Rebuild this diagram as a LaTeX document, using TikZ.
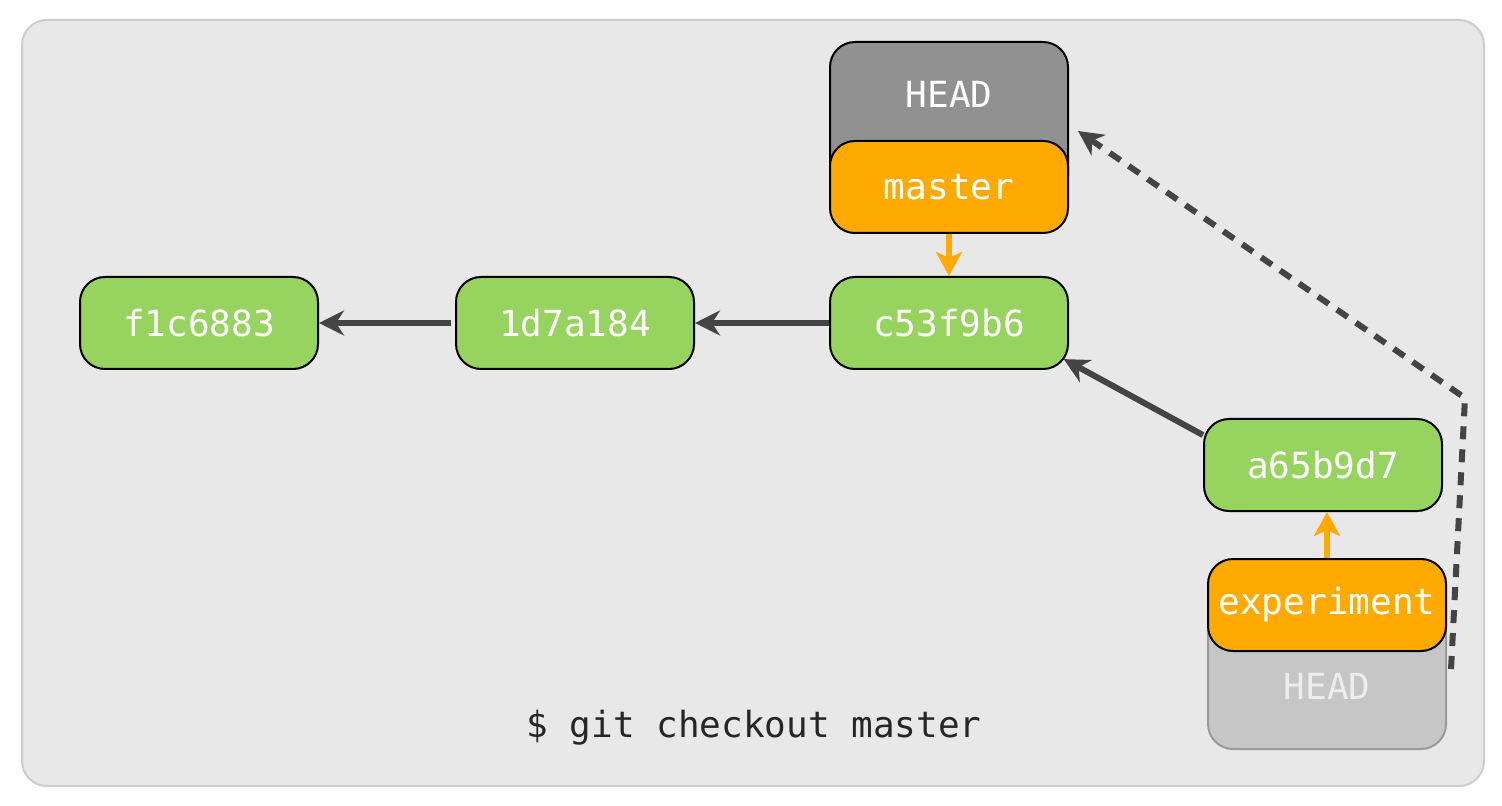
\documentclass[tikz,border=0pt]{standalone}
\usepackage{fontspec}
\setmonofont{DejaVu Sans Mono}
\usetikzlibrary{arrows.meta}
\definecolor{bggray}{HTML}{E8E8E8}
\definecolor{bgline}{HTML}{CDCDCD}
\definecolor{commitgreen}{HTML}{96D35F}
\definecolor{branchorange}{HTML}{FFAA00}
\definecolor{headgray}{HTML}{919191}
\definecolor{oldhead}{HTML}{C6C6C6}
\definecolor{oldheadline}{HTML}{9A9A9A}
\definecolor{arrowgray}{HTML}{444444}
\begin{document}
\begin{tikzpicture}[x=0.5pt,y=-0.5pt,
    box/.style={draw=black, line width=1pt, rounded corners=12.5pt,
        minimum width=119pt, minimum height=46pt, inner sep=0pt,
        font=\ttfamily\fontsize{18}{20}\selectfont, text=white},
    commit/.style={box, fill=commitgreen},
    branch/.style={box, fill=branchorange},
    headbox/.style={box, fill=headgray, anchor=north, minimum height=79.5pt},
    oldheadbox/.style={box, draw=oldheadline, fill=oldhead, anchor=north, minimum height=74pt},
    headtext/.style={font=\ttfamily\fontsize{18}{20}\selectfont, text=white},
    parent/.style={draw=arrowgray, line width=3pt, -{Stealth[length=12.5pt,width=12.5pt,inset=4pt]}},
    pointer/.style={draw=branchorange, line width=3pt, -{Stealth[length=12pt,width=13pt,inset=3pt]}},
    moved/.style={draw=arrowgray, line width=3pt, dash pattern=on 6.5pt off 5pt,
        -{Stealth[length=12.5pt,width=12.5pt,inset=4pt]}}]
    \useasboundingbox (0,0) rectangle (1502,806);
    \draw[bgline, fill=bggray, line width=1pt, rounded corners=12.5pt] (22,20) rectangle (1484,786);

    % commits
    \node[commit] (f1c6883) at (199,323) {f1c6883};
    \node[commit] (1d7a184) at (575,323) {1d7a184};
    \node[commit] (c53f9b6) at (949,323) {c53f9b6};
    \node[commit] (a65b9d7) at (1323,465) {a65b9d7};

    % HEAD now on master
    \node[headbox] (head) at (949,41) {};
    \node[headtext] (headlabel) at (949,94) {HEAD};
    \node[branch] (master) at (949,187) {master};

    % old HEAD under experiment
    \node[oldheadbox] (oldhead) at (1327,600) {};
    \node[headtext, text=white!93!black] (oldheadlabel) at (1327,686) {HEAD};
    \node[branch] (experiment) at (1327,605) {experiment};

    \draw[parent, shorten <=2pt] (1d7a184.west) -- (f1c6883.east);
    \draw[parent] (c53f9b6.west) -- (1d7a184.east);
    \draw[parent, shorten >=-3pt] (a65b9d7.166) -- (c53f9b6.-18);
    \draw[pointer] (master.south) -- (c53f9b6.north);
    \draw[pointer] (experiment.north) -- (experiment.north |- a65b9d7.south);

    \coordinate (bend) at (1465,398);
    \draw[moved] ([xshift=2pt,yshift=3pt]oldhead.east) -- (bend) -- ([xshift=4.5pt,yshift=-4.75pt]head.east);

    \node[font=\ttfamily\fontsize{18}{20}\selectfont, text=black!85] (cmd) at (754,728) {\$ git checkout master};
\end{tikzpicture}
\end{document}
